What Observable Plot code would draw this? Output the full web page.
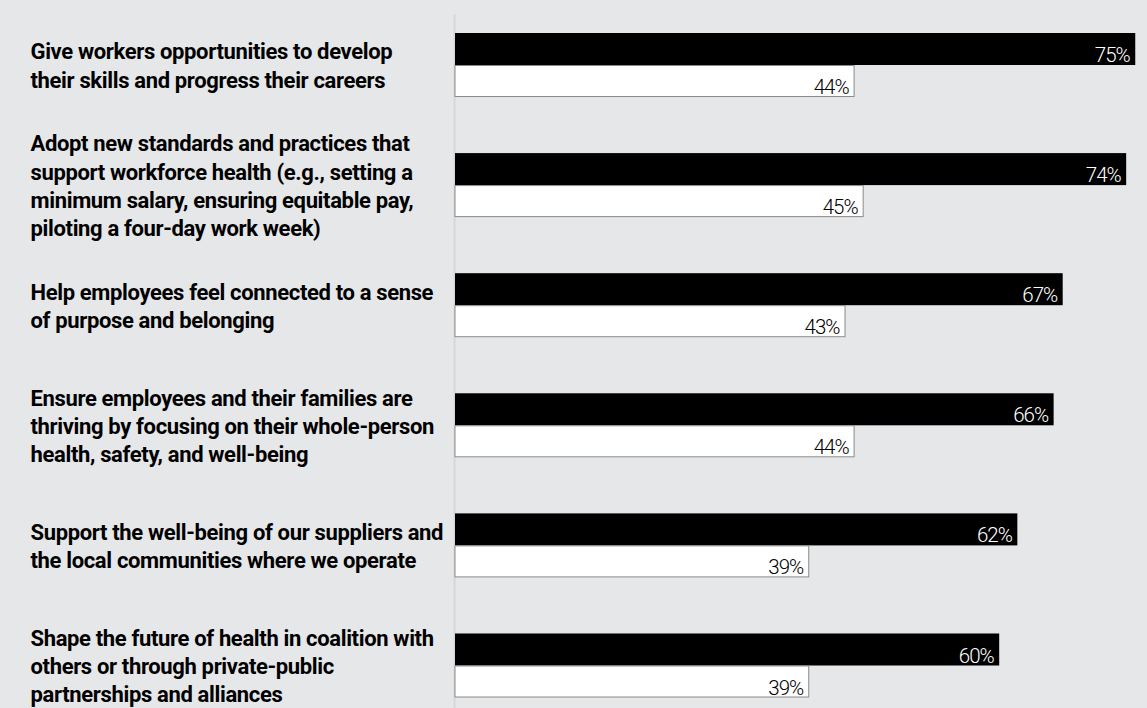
<!DOCTYPE html>
<html>
<head>
<meta charset="utf-8">
<script src="https://cdn.jsdelivr.net/npm/d3@7"></script>
<script src="https://cdn.jsdelivr.net/npm/@observablehq/plot@0.6"></script>
<style>
  html, body { margin: 0; padding: 0; background: #e6e7e9; }
  #chart svg { display: block; }
</style>
</head>
<body>
<div id="chart"></div>
<script>
const categories = [
  "Give workers opportunities to develop\ntheir skills and progress their careers",
  "Adopt new standards and practices that\nsupport workforce health (e.g., setting a\nminimum salary, ensuring equitable pay,\npiloting a four-day work week)",
  "Help employees feel connected to a sense\nof purpose and belonging",
  "Ensure employees and their families are\nthriving by focusing on their whole-person\nhealth, safety, and well-being",
  "Support the well-being of our suppliers and\nthe local communities where we operate",
  "Shape the future of health in coalition with\nothers or through private-public\npartnerships and alliances"
];
const seriesA = [75, 74, 67, 66, 62, 60]; // black bars
const seriesB = [44, 45, 43, 44, 39, 39]; // white bars

const rowsA = categories.map((c, i) => ({cat: c, value: seriesA[i]}));
const rowsB = categories.map((c, i) => ({cat: c, value: seriesB[i]}));

const labelFont = "Roboto, 'Liberation Sans', sans-serif";
const valueFont = "Roboto, 'Liberation Sans', sans-serif";

const chart = Plot.plot({
  width: 1147,
  height: 708,
  marginLeft: 30,
  marginRight: 0,
  marginTop: 14,
  marginBottom: 0,
  style: {background: "#e6e7e9", overflow: "visible"},
  x: {domain: [0, 100], range: [455, 1362], axis: null},
  y: {domain: categories, range: [33, 697.5], paddingInner: 0.467, paddingOuter: 0, round: false, axis: null},
  marks: [
    Plot.ruleX([0], {stroke: "#d6d7d9", strokeWidth: 2, dx: -1}),
    Plot.barX(rowsA, {x: "value", y: "cat", fill: "#000", insetBottom: 32}),
    Plot.barX(rowsB, {x: "value", y: "cat", fill: "#fff", stroke: "#8a8a8a", strokeWidth: 1, insetTop: 32.5, insetBottom: 0.5}),
    Plot.text(rowsA, {x: "value", y: "cat", text: d => d.value + "%", textAnchor: "end", dx: -6, dy: -10, fill: "#fff", fontSize: 20.5, fontWeight: 300, fontFamily: valueFont}),
    Plot.text(rowsB, {x: "value", y: "cat", text: d => d.value + "%", textAnchor: "end", dx: -6, dy: 22, fill: "#000", fontSize: 20.5, fontWeight: 300, fontFamily: valueFont}),
    Plot.text(categories, {y: d => d, text: d => d, frameAnchor: "left", textAnchor: "start", lineAnchor: "middle", lineHeight: 1.28, dy: -1, fill: "#000", fontSize: 22, fontWeight: "bold", fontFamily: labelFont})
  ]
});
const textGroups = chart.querySelectorAll('g[aria-label="text"]');
if (textGroups.length >= 3) {
  textGroups[0].style.letterSpacing = "-1px";
  textGroups[1].style.letterSpacing = "-1px";
  textGroups[2].style.letterSpacing = "-0.35px";
}
document.getElementById("chart").appendChild(chart);
</script>
</body>
</html>
